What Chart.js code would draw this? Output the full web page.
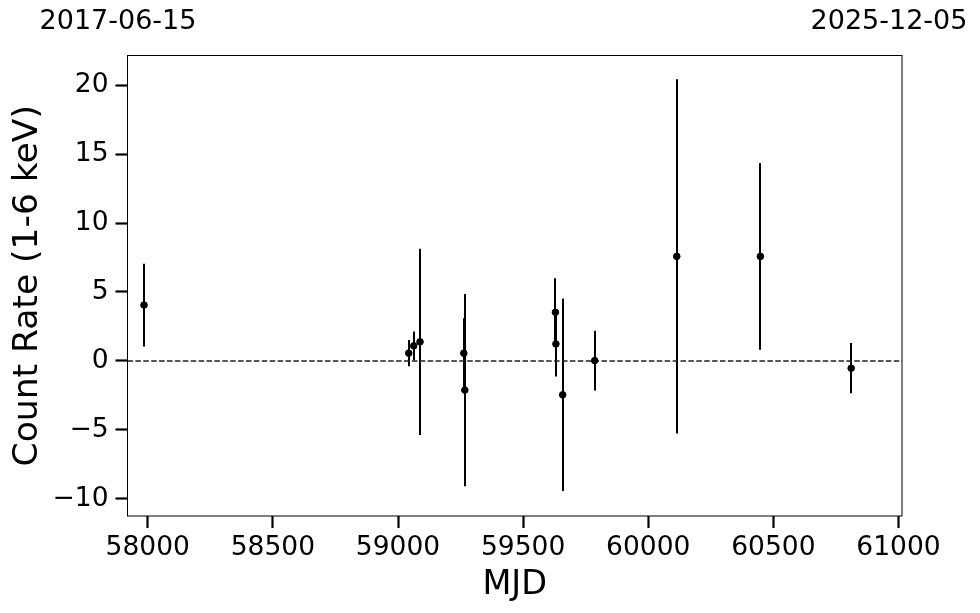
<!DOCTYPE html>
<html>
<head>
<meta charset="utf-8">
<script src="https://cdn.jsdelivr.net/npm/chart.js@4"></script>
<style>
  html, body { margin: 0; padding: 0; background: #fff; }
  #wrap { width: 980px; height: 613px; }
</style>
</head>
<body>
<div id="wrap"><canvas id="lc"></canvas></div>
<script>
// Light curve data (MJD, count rate, 1-sigma error)
const mjd  = [57985, 59043, 59063, 59088, 59263, 59267, 59629, 59631, 59658, 59786, 60114, 60448, 60811];
const rate = [4.05, 0.56, 1.09, 1.38, 0.56, -2.12, 3.53, 1.23, -2.46, 0.02, 7.58, 7.58, -0.53];
const err  = [3.0, 0.95, 1.05, 6.75, 2.53, 6.98, 2.46, 2.37, 6.98, 2.16, 12.85, 6.77, 1.82];

// axis limits and tick labels
const xLimits = [57919, 61014];
const yLimits = [-11.25, 22.15];
const xTicks = [58000, 58500, 59000, 59500, 60000, 60500, 61000];
const yTicks = [-10, -5, 0, 5, 10, 15, 20];
const dateLabels = ['2017-06-15', '2025-12-05'];

const FONT = 'DejaVu Sans';

const points = mjd.map((m, i) => ({ x: m, y: rate[i] }));

// vertical error bars, drawn through the chart scales
const errorBars = {
    id: 'errorBars',
    beforeDatasetsDraw(chart) {
        const { ctx, scales: { x, y } } = chart;
        ctx.save();
        ctx.strokeStyle = '#000';
        ctx.lineWidth = 2;
        mjd.forEach((m, i) => {
            const px = Math.round(x.getPixelForValue(m));
            ctx.beginPath();
            ctx.moveTo(px, y.getPixelForValue(rate[i] - err[i]));
            ctx.lineTo(px, y.getPixelForValue(rate[i] + err[i]));
            ctx.stroke();
        });
        ctx.restore();
    }
};

// box around the plot + the start/end dates on top
const frame = {
    id: 'frame',
    afterDraw(chart) {
        const { ctx, chartArea: a } = chart;
        ctx.save();
        ctx.strokeStyle = '#000';
        ctx.lineWidth = 1;
        ctx.strokeRect(a.left, a.top, a.right - a.left, a.bottom - a.top);
        ctx.fillStyle = '#000';
        ctx.font = '27px "' + FONT + '"';
        ctx.textAlign = 'center';
        ctx.textBaseline = 'middle';
        ctx.fillText(dateLabels[0], a.left - 9.5, 22);
        ctx.fillText(dateLabels[1], a.right - 13, 22);
        ctx.restore();
    }
};

const tickGrid = {
    display: true,
    drawOnChartArea: false,
    drawTicks: true,
    tickLength: 12,
    tickWidth: 2.2,
    tickColor: '#000'
};

const config = {
    type: 'scatter',
    data: {
        datasets: [
            {
                label: 'rate',
                data: points,
                backgroundColor: '#000',
                borderColor: '#000',
                pointRadius: 3.3,
                pointHoverRadius: 3.3,
                order: 1
            },
            {
                label: 'zero',
                type: 'line',
                data: [{ x: xLimits[0], y: 0 }, { x: xLimits[1], y: 0 }],
                borderColor: '#222',
                borderWidth: 1.5,
                borderDash: [5.5, 2.4],
                pointRadius: 0,
                fill: false,
                order: 2
            }
        ]
    },
    options: {
        responsive: true,
        maintainAspectRatio: false,
        animation: false,
        layout: { padding: { left: 0, right: 78, top: 55.5, bottom: 0 } },
        plugins: {
            legend: { display: false },
            tooltip: { enabled: false }
        },
        scales: {
            x: {
                type: 'linear',
                min: xLimits[0],
                max: xLimits[1],
                grid: tickGrid,
                border: { display: false },
                afterBuildTicks: s => { s.ticks = xTicks.map(v => ({ value: v })); },
                afterFit: s => { s.height = 97; },
                ticks: {
                    color: '#000',
                    padding: 4,
                    maxRotation: 0,
                    font: { family: FONT, size: 26.5 },
                    callback: v => String(v)
                },
                title: {
                    display: true,
                    text: 'MJD',
                    color: '#000',
                    padding: { top: 0, bottom: 8 },
                    font: { family: FONT, size: 33.5 }
                }
            },
            y: {
                type: 'linear',
                min: yLimits[0],
                max: yLimits[1],
                grid: tickGrid,
                border: { display: false },
                afterBuildTicks: s => { s.ticks = yTicks.map(v => ({ value: v })); },
                afterFit: s => { s.width = 127.5; },
                ticks: {
                    color: '#000',
                    padding: 7,
                    font: { family: FONT, size: 26.5 },
                    callback: v => String(v).replace('-', '\u2212')
                },
                title: {
                    display: true,
                    text: 'Count Rate (1-6 keV)',
                    color: '#000',
                    padding: { top: 7, bottom: 0 },
                    font: { family: FONT, size: 34.5 }
                }
            }
        }
    },
    plugins: [errorBars, frame]
};

window.onload = () => {
    const ctx = document.getElementById('lc').getContext('2d');
    new Chart(ctx, config);
};
</script>
</body>
</html>
